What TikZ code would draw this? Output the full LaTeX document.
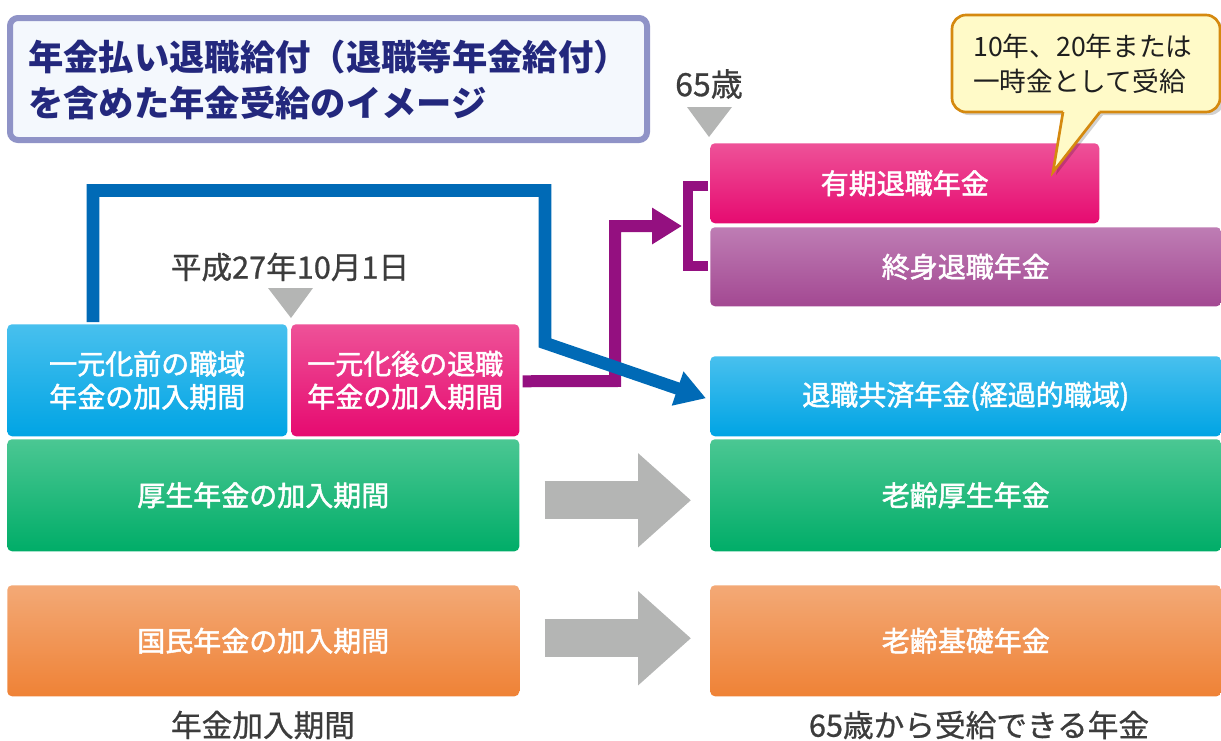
\documentclass[tikz,border=0pt]{standalone}
\usepackage{fontspec}
\newfontfamily\jp{Noto Sans CJK JP}
\newfontfamily\jpm[FakeBold=1.8]{Noto Sans CJK JP}
\newfontfamily\jpd[FakeBold=0.8]{Noto Sans CJK JP}
\usetikzlibrary{arrows.meta,calc}
\definecolor{bluetop}{RGB}{72,192,238}
\definecolor{bluebot}{RGB}{0,164,228}
\definecolor{pinktop}{RGB}{238,82,152}
\definecolor{pinkbot}{RGB}{230,10,112}
\definecolor{purptop}{RGB}{190,125,180}
\definecolor{purpbot}{RGB}{163,72,146}
\definecolor{greentop}{RGB}{75,199,147}
\definecolor{greenbot}{RGB}{0,173,104}
\definecolor{orangetop}{RGB}{243,169,118}
\definecolor{orangebot}{RGB}{239,130,54}
\definecolor{bluepath}{RGB}{0,106,182}
\definecolor{purplepath}{RGB}{148,16,128}
\definecolor{grayc}{RGB}{180,181,180}
\definecolor{callfill}{RGB}{255,250,200}
\definecolor{calldraw}{RGB}{213,137,15}
\definecolor{titleborder}{RGB}{143,147,199}
\definecolor{titlefill}{RGB}{244,248,253}
\definecolor{navy}{RGB}{35,40,125}
\definecolor{darktext}{RGB}{60,60,60}
\begin{document}
\begin{tikzpicture}[x=0.75pt,y=-0.75pt,
  box/.style={rounded corners=3.5pt, inner sep=0pt, anchor=north west, text=white,
    font=\jpm\fontsize{21}{24.75}\selectfont, align=center},
  bluebox/.style={box, top color=bluetop, bottom color=bluebot},
  pinkbox/.style={box, top color=pinktop, bottom color=pinkbot},
  purpbox/.style={box, top color=purptop, bottom color=purpbot},
  greenbox/.style={box, top color=greentop, bottom color=greenbot},
  orangebox/.style={box, top color=orangetop, bottom color=orangebot},
  bluearrow/.style={draw=bluepath, line width=9.4pt, miter limit=10,
    -{Triangle[length=22.5pt, width=25.5pt]}},
  purplearrow/.style={draw=purplepath, line width=9pt, miter limit=10,
    -{Triangle[length=22.5pt, width=26pt]}},
  bracketline/.style={draw=purplepath, line width=7.5pt, miter limit=10},
  grayarrow/.style={draw=grayc, line width=28.5pt,
    -{Triangle[length=39.75pt, width=68.25pt]}},
  marker/.style={fill=grayc},
  darklabel/.style={text=darktext, inner sep=0pt},
]
\useasboundingbox (0,0) rectangle (1221,740);

% title
\node[draw=titleborder, line width=4.5pt, fill=titlefill, rounded corners=6pt,
  minimum width=477.75pt, minimum height=91.5pt, inner sep=0pt] (titlebox) at (328.5,79) {};
\node[anchor=west, align=left, inner sep=0pt, text=navy,
  font=\jp\bfseries\fontsize{26.5}{34.5}\selectfont] (title) at (28,80)
  {年金払い退職給付（退職等年金給付）\\を含めた年金受給のイメージ};

% left column
\node[bluebox, minimum width=210pt, minimum height=84pt] (pre) at (7,324) {一元化前の職域\\年金の加入期間};
\node[pinkbox, minimum width=171pt, minimum height=84pt] (post) at (291,324) {一元化後の退職\\年金の加入期間};
\node[greenbox, minimum width=384pt, minimum height=84pt] (kosei) at (7,439) {厚生年金の加入期間};
\node[orangebox, minimum width=384pt, minimum height=83.25pt] (kokumin) at (7,585) {国民年金の加入期間};

% right column
\node[pinkbox, minimum width=291.75pt, minimum height=60pt] (yuki) at (710,143) {有期退職年金};
\node[purpbox, minimum width=383.25pt, minimum height=59.25pt] (shushin) at (710,227) {終身退職年金};
\node[bluebox, minimum width=383.25pt, minimum height=60pt] (kyosai) at (710,356) {退職共済年金(経過的職域)};
\node[greenbox, minimum width=383.25pt, minimum height=84pt] (rkosei) at (710,439) {老齢厚生年金};
\node[orangebox, minimum width=383.25pt, minimum height=83.25pt] (rkiso) at (710,585) {老齢基礎年金};

% labels and markers
\node[darklabel, font=\jpd\fontsize{24}{28}\selectfont] (age) at (709,84) {65歳};
\fill[marker] (687,107) -- (732,107) -- (709,137) -- cycle;
\node[darklabel, font=\jpd\fontsize{23}{27}\selectfont] (date) at (290,267) {平成27年10月1日};
\fill[marker] (268,288) -- (313,288) -- (291,318) -- cycle;
\node[darklabel, font=\jpd\fontsize{23}{27}\selectfont] (lbl1) at (263,725) {年金加入期間};
\node[darklabel, font=\jpd\fontsize{23}{27}\selectfont] (lbl2) at (979,725) {65歳から受給できる年金};

% callout
\fill[black, opacity=0.18, rounded corners=10.5pt] (955,18) rectangle (1224,115);
\fill[black, opacity=0.18] (1067,115) -- (1056,175) -- (1103,115) -- cycle;
\draw[draw=calldraw, fill=callfill, line width=2pt, rounded corners=10.5pt] (952,15) rectangle (1220,112);
\fill[callfill] (1064.5,108) -- (1063,112) -- (1053,172) -- (1100,112) -- (1098,108) -- cycle;
\draw[draw=calldraw, line width=2pt, line join=miter] (1063,112) -- (1053,172) -- (1100,112);
\node[anchor=west, align=left, inner sep=0pt, text=black!88,
  font=\jp\fontsize{20}{26.25}\selectfont] (note) at (973,64) {10年、20年または\\一時金として受給};

% connectors
\coordinate (brk) at (682,226);
\draw[purplearrow] ($(post.east)+(3,1)$) -- (615,381) -- (615,226) -- (brk);
\draw[bracketline] (708,186) -- (688,186) -- (688,266) -- (708,266);
\draw[bluearrow] ($(pre.north west)+(86,-2)$) -- (93,190.5) -- (545,190.5) -- (545,343) -- ($(kyosai.west)+(-4,2)$);
\draw[grayarrow] ($(kosei.east)+(25,5)$) -- ($(rkosei.west)+(-19,5)$);
\draw[grayarrow] ($(kokumin.east)+(25,-2.5)$) -- ($(rkiso.west)+(-19,-2.5)$);
\end{tikzpicture}
\end{document}
